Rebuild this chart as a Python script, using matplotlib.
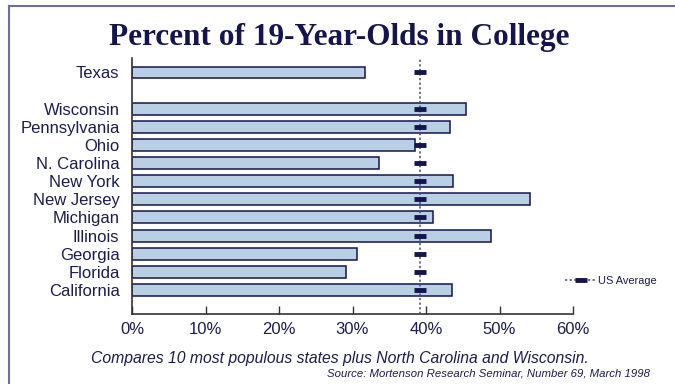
import matplotlib.pyplot as plt
from matplotlib.lines import Line2D

# data (percent of 19-year-olds in college)
states = ['California', 'Florida', 'Georgia', 'Illinois', 'Michigan', 'New Jersey',
          'New York', 'N. Carolina', 'Ohio', 'Pennsylvania', 'Wisconsin', 'Texas']
pct = [43.5, 29.1, 30.6, 48.8, 40.9, 54.2, 43.7, 33.6, 38.5, 43.3, 45.4, 31.7]
# row slots; Texas sits one empty slot above the rest
slots = [0, 1, 2, 3, 4, 5, 6, 7, 8, 9, 10, 12]
us_avg = 39.2
xticks = [0, 10, 20, 30, 40, 50, 60]

navy = '#14144f'
bar_fill = '#b9cfe3'
text_col = '#1c1c50'

plt.rcParams['font.family'] = ['Liberation Sans', 'DejaVu Sans']

fig = plt.figure(figsize=(6.75, 3.84), dpi=100)
ax = fig.add_axes([132/675, 1 - 314/384, (573-132)/675, (314-58)/384])

ax.barh(slots, pct, height=0.66, color=bar_fill, edgecolor=navy, linewidth=1.1, zorder=2)

# US average: dotted line plus a dash marker on each row
ax.axvline(us_avg, color='#4a4a7a', linestyle=(0, (1.5, 1.5)), linewidth=1.1, zorder=3)
ax.plot([us_avg] * len(slots), slots, linestyle='none', marker='_', markersize=8,
        markeredgewidth=3.5, color=navy, zorder=4)

ax.set_xlim(0, 60)
ax.set_ylim(-1.33, 12.8)
ax.set_xticks(xticks)
ax.set_xticklabels([f'{t}%' for t in xticks], fontsize=12, color=text_col)
ax.set_yticks(slots)
ax.set_yticklabels(states, fontsize=12, color=text_col)
ax.tick_params(axis='y', length=0, pad=9)
ax.tick_params(axis='x', direction='in', length=6, width=1, color='#333333', pad=6)

for side in ['top', 'right']:
    ax.spines[side].set_visible(False)
for side in ['left', 'bottom']:
    ax.spines[side].set_color('#333333')
    ax.spines[side].set_linewidth(1.2)

# legend
handle = Line2D([0], [0], color='#4a4a7a', linestyle=(0, (1.5, 1.5)), linewidth=1.1,
                marker='_', markersize=8, markeredgewidth=3.5, markeredgecolor=navy)
leg = ax.legend([handle], ['US Average'], loc='center left', bbox_to_anchor=(0.96, 0.13),
                frameon=False, fontsize=7.9, handlelength=2.8, handletextpad=0.2)
for t in leg.get_texts():
    t.set_color(text_col)

fig.text(0.503, 0.902, 'Percent of 19-Year-Olds in College', ha='center', va='center',
         fontsize=22.5, fontweight='bold', family=['Liberation Serif', 'DejaVu Serif'],
         color=navy)
fig.text(0.503, 1 - 358/384, 'Compares 10 most populous states plus North Carolina and Wisconsin.',
         ha='center', va='center', fontsize=11.3, style='italic', color=text_col)
fig.text(650/675, 1 - 373/384, 'Source: Mortenson Research Seminar, Number 69, March 1998',
         ha='right', va='center', fontsize=8.2, style='italic', color=text_col)

# frame lines at top and left of the slide
fig.add_artist(Line2D([9/675, 1], [1 - 6/384, 1 - 6/384], color='#6d6d9e', linewidth=1.5))
fig.add_artist(Line2D([9/675, 9/675], [0, 1 - 6/384], color='#6d6d9e', linewidth=1.5))

fig.savefig('out.png', dpi=100)
